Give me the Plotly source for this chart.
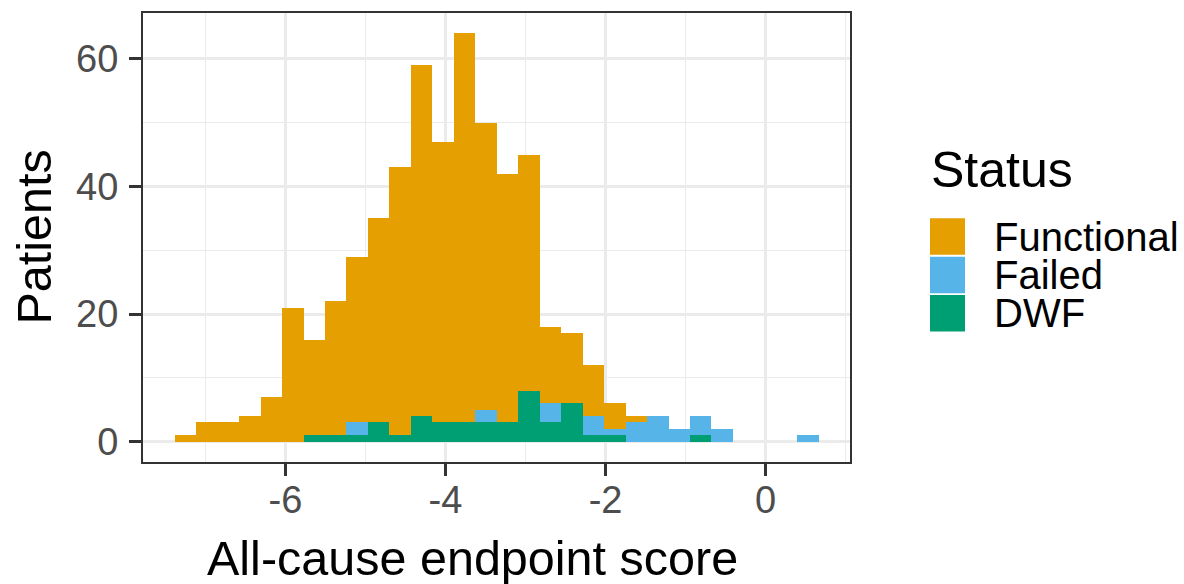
import plotly.graph_objects as go

# Histogram of all-cause endpoint scores, 30 equal-width bins, stacked by status
bin_centers = [-7.250, -6.982, -6.713, -6.445, -6.177, -5.908, -5.640, -5.372,
               -5.104, -4.835, -4.567, -4.299, -4.030, -3.762, -3.494, -3.225,
               -2.957, -2.689, -2.421, -2.152, -1.884, -1.616, -1.347, -1.079,
               -0.811, -0.542, -0.274, -0.006, 0.262, 0.531]
bin_width = 0.2683

functional = [1, 3, 3, 4, 7, 21, 15, 21, 26, 32, 42, 55, 44, 61, 45, 39,
              37, 12, 11, 8, 4, 1, 0, 0, 0, 0, 0, 0, 0, 0]
failed = [0, 0, 0, 0, 0, 0, 0, 0, 2, 0, 0, 0, 0, 0, 2, 0,
          0, 3, 0, 3, 1, 3, 4, 2, 3, 2, 0, 0, 0, 1]
dwf = [0, 0, 0, 0, 0, 0, 1, 1, 1, 3, 1, 4, 3, 3, 3, 3,
       8, 3, 6, 1, 1, 0, 0, 0, 1, 0, 0, 0, 0, 0]

status_names = ["Functional", "Failed", "DWF"]
status_colors = {"Functional": "#E69F00", "Failed": "#56B4E9", "DWF": "#009E73"}
x_ticks = [-6, -4, -2, 0]
y_ticks = [0, 20, 40, 60]

FONT = "Liberation Sans, Arial, sans-serif"
W, H = 1184, 584
ML, MR, MT, MB = 143, 334, 13, 122
PW, PH = W - ML - MR, H - MT - MB


def px_x(px):
    return (px - ML) / PW


def px_y(py):
    return (H - MB - py) / PH


fig = go.Figure()
# stacking order: DWF at the bottom, Functional on top
for name, counts in [("DWF", dwf), ("Failed", failed), ("Functional", functional)]:
    fig.add_trace(go.Bar(
        x=bin_centers, y=counts, width=bin_width, name=name,
        marker=dict(color=status_colors[name], line=dict(width=0)),
        showlegend=False,
    ))

grid_major = "#EBEBEB"
fig.update_layout(
    width=W, height=H,
    margin=dict(l=ML, r=MR, t=MT, b=MB, pad=0),
    paper_bgcolor="white", plot_bgcolor="white",
    barmode="stack", bargap=0,
    font=dict(family=FONT, color="black"),
    xaxis=dict(
        range=[-7.78, 1.055], tickvals=x_ticks, ticktext=[str(v) for v in x_ticks],
        showgrid=True, gridcolor=grid_major, gridwidth=2.6,
        minor=dict(dtick=1, tick0=-7, showgrid=True, gridcolor=grid_major, gridwidth=1.4),
        ticks="outside", ticklen=12, tickwidth=2.5, tickcolor="#333333",
        tickfont=dict(size=38, color="#4D4D4D", family=FONT),
        ticklabelstandoff=-9,
        showline=True, mirror=True, linecolor="#333333", linewidth=2,
        zeroline=False,
    ),
    yaxis=dict(
        range=[-3.2, 67.2], tickvals=y_ticks, ticktext=[str(v) for v in y_ticks],
        showgrid=True, gridcolor=grid_major, gridwidth=2.6,
        minor=dict(dtick=10, tick0=0, showgrid=True, gridcolor=grid_major, gridwidth=1.4),
        ticks="outside", ticklen=12, tickwidth=2.5, tickcolor="#333333",
        tickfont=dict(size=38, color="#4D4D4D", family=FONT),
        ticklabelstandoff=3,
        showline=True, mirror=True, linecolor="#333333", linewidth=2,
        zeroline=False,
    ),
)

annotations = [
    dict(text="All-cause endpoint score", x=px_x(472), y=px_y(558),
         xref="paper", yref="paper", xanchor="center", yanchor="middle",
         showarrow=False, font=dict(size=48.5, color="black", family=FONT)),
    dict(text="Patients", x=px_x(33), y=px_y(237.5), textangle=-90,
         xref="paper", yref="paper", xanchor="center", yanchor="middle",
         showarrow=False, font=dict(size=48.5, color="black", family=FONT)),
    dict(text="Status", x=px_x(929), y=px_y(170),
         xref="paper", yref="paper", xanchor="left", yanchor="middle",
         showarrow=False, font=dict(size=50, color="black", family=FONT)),
]

# legend keys drawn as squares beside the panel
shapes = []
key_tops = [218.3, 256.7, 295.0]
key_h = 36.5
for name, top in zip(status_names, key_tops):
    shapes.append(dict(
        type="rect", xref="paper", yref="paper",
        x0=px_x(930), x1=px_x(965), y0=px_y(top + key_h), y1=px_y(top),
        fillcolor=status_colors[name], line=dict(width=0), layer="above",
    ))
    annotations.append(dict(
        text=name, x=px_x(992), y=px_y(top + key_h / 2),
        xref="paper", yref="paper", xanchor="left", yanchor="middle",
        showarrow=False, font=dict(size=40, color="black", family=FONT),
    ))

fig.update_layout(annotations=annotations, shapes=shapes)
fig.write_html("out.html")
